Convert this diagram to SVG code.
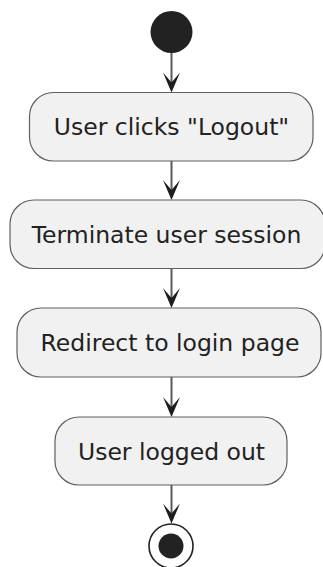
<svg xmlns="http://www.w3.org/2000/svg" width="323" height="567" viewBox="0 0 323 567">
  <style>
    .act { fill: #F1F1F1; stroke: #5f5f5f; stroke-width: 1.2; }
    .lbl { font-family: "DejaVu Sans", "Liberation Sans", sans-serif; font-size: 23.5px; fill: #222222; text-anchor: middle; }
    .flow { stroke: #5a5a5a; stroke-width: 2; fill: none; }
    .head { fill: #1e1e1e; }
    .dot { fill: #222222; }
  </style>
  <defs>
    <!-- open-notched arrowhead, tip at origin pointing down -->
    <path id="arrowhead" class="head" d="M -8.5 -20 L 0 0 L 8.5 -20 L 0 -10 Z"/>
  </defs>
  <rect width="323" height="567" fill="#FFFFFF"/>

  <g id="connectors">
    <line class="flow" x1="171.5" y1="53" x2="171.5" y2="84"/>
    <use href="#arrowhead" x="171.5" y="92.5"/>
    <line class="flow" x1="171.5" y1="161" x2="171.5" y2="192"/>
    <use href="#arrowhead" x="171.5" y="200"/>
    <line class="flow" x1="171.5" y1="268.5" x2="171.5" y2="300"/>
    <use href="#arrowhead" x="171.5" y="308"/>
    <line class="flow" x1="171.5" y1="377" x2="171.5" y2="409"/>
    <use href="#arrowhead" x="171.5" y="417"/>
    <line class="flow" x1="171.5" y1="485" x2="171.5" y2="515"/>
    <use href="#arrowhead" x="171.5" y="523.5"/>
  </g>

  <g id="start">
    <circle class="dot" cx="171.5" cy="32" r="21"/>
  </g>

  <g id="user-clicks-logout">
    <rect class="act" x="29.5" y="92.5" width="283.5" height="68.5" rx="24" ry="24"/>
    <text class="lbl" x="171.5" y="135">User clicks "Logout"</text>
  </g>

  <g id="terminate-user-session">
    <rect class="act" x="10" y="200" width="315" height="68.5" rx="24" ry="24"/>
    <text class="lbl" x="166.5" y="243">Terminate user session</text>
  </g>

  <g id="redirect-to-login-page">
    <rect class="act" x="17" y="308" width="304" height="69" rx="24" ry="24"/>
    <text class="lbl" x="170" y="350.5">Redirect to login page</text>
  </g>

  <g id="user-logged-out">
    <rect class="act" x="55" y="417" width="232" height="68" rx="24" ry="24"/>
    <text class="lbl" x="171.5" y="459.5">User logged out</text>
  </g>

  <g id="end">
    <circle cx="171" cy="546" r="22" fill="#FFFFFF" stroke="#222222" stroke-width="1.6"/>
    <circle class="dot" cx="171" cy="546" r="12.5"/>
  </g>
</svg>
